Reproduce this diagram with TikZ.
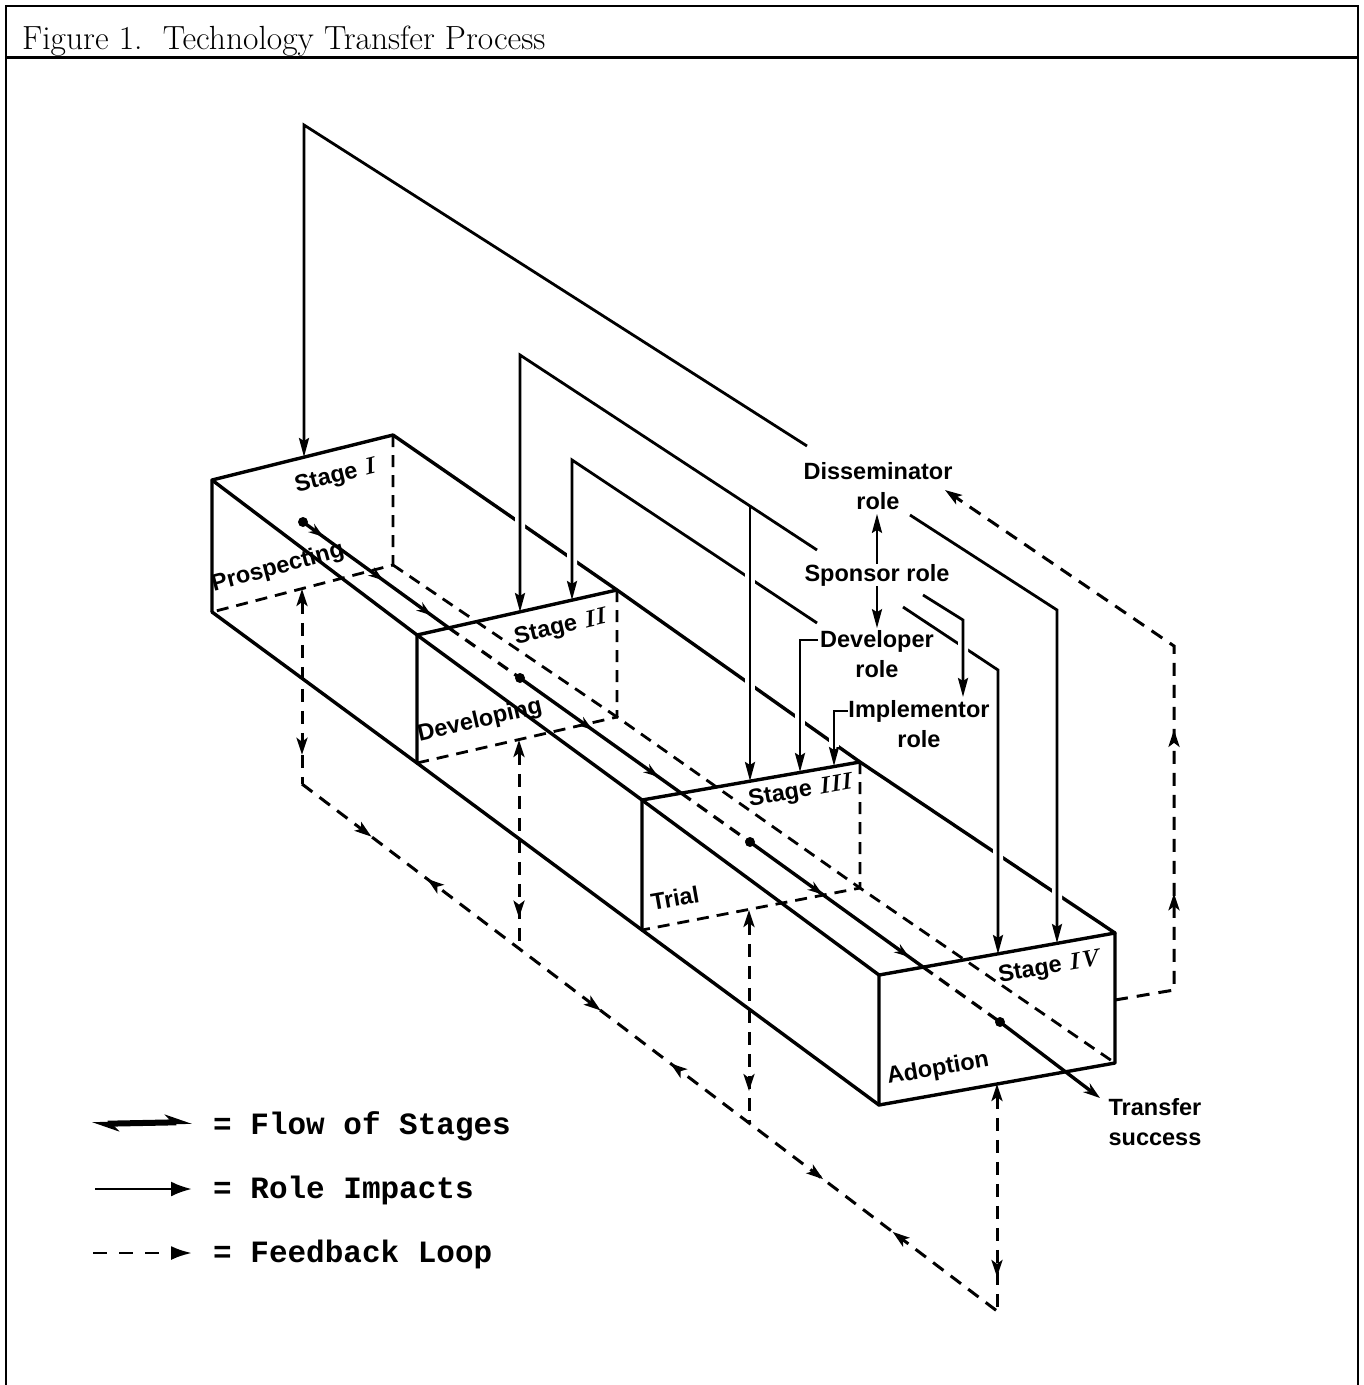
\documentclass[tikz,border=0pt]{standalone}
\usepackage{fontspec}
\newfontfamily\lblfont{Liberation Sans}
\newfontfamily\legfont{Liberation Mono}
\usetikzlibrary{arrows.meta,decorations.markings}
\newcommand\stnum[1]{{\rmfamily\bfseries\itshape #1}}

\begin{document}
\begin{tikzpicture}[x=1pt, y=-1pt,
    >={Stealth[length=17pt,width=11pt,inset=4pt]},
    edge/.style={line width=3.4pt, line cap=round, line join=round},
    hidden/.style={line width=2.8pt, dash pattern=on 12pt off 8pt},
    flow/.style={line width=3.4pt},
    flowdash/.style={line width=3.2pt, dash pattern=on 12pt off 8pt},
    role/.style={line width=2.8pt, -{Stealth[length=19pt,width=10pt,inset=3pt]}},
    halo/.style={preaction={draw=white, line width=10pt, -, shorten <=6pt, shorten >=19pt}},
    fb/.style={line width=3pt, dash pattern=on 13pt off 9pt},
    lbl/.style={font={\fontsize{23.5}{30}\lblfont\bfseries}, inner sep=0pt, align=center},
    leg/.style={font={\fontsize{31}{33}\legfont\bfseries}, anchor=west, inner sep=0pt}
]
\useasboundingbox (0,0) rectangle (1364,1385);

% Frame and caption
\draw[line width=1.5pt] (6,1385) -- (6,6) -- (1358,6) -- (1358,1385);
\draw[line width=3pt] (6,57) -- (1358,57);
\node[anchor=base west, inner sep=0pt, font=\fontsize{33.5}{40}\selectfont] (cap) at (22,49) {Figure 1.\ \ Technology Transfer Process};

% Corners of the stage faces
\coordinate (s1tl) at (212,480); \coordinate (s1tr) at (393,435);
\coordinate (s1br) at (393,565); \coordinate (s1bl) at (212,612);
\coordinate (s2tl) at (417,635); \coordinate (s2tr) at (617,590);
\coordinate (s2br) at (617,717); \coordinate (s2bl) at (417,763);
\coordinate (s3tl) at (642,800); \coordinate (s3tr) at (860,762);
\coordinate (s3br) at (860,888); \coordinate (s3bl) at (642,930);
\coordinate (s4tl) at (879,975); \coordinate (s4tr) at (1115,933);
\coordinate (s4br) at (1115,1063); \coordinate (s4bl) at (879,1105);

% Long edges
\draw[edge] (s1tl) -- (s2tl) -- (s3tl) -- (s4tl);
\draw[edge] (s1tr) -- (s2tr) -- (s3tr) -- (s4tr);
\draw[edge] (s1bl) -- (s2bl) -- (s3bl) -- (s4bl);
\draw[hidden] (s1br) -- (s2br) -- (s3br) -- (s4br);

% Stage faces
\foreach \s in {1,2,3}{
    \draw[edge] (s\s bl) -- (s\s tl) -- (s\s tr);
    \draw[hidden] (s\s tr) -- (s\s br) -- (s\s bl);
}
\draw[edge] (s4tl) -- (s4tr) -- (s4br) -- (s4bl) -- cycle;

% Flow of stages
\coordinate (f1) at (303,522); \coordinate (c1) at (449,628);
\coordinate (f2) at (520,678); \coordinate (c2) at (681,793);
\coordinate (f3) at (750,842); \coordinate (c3) at (923,967);
\coordinate (f4) at (1000,1022); \coordinate (fend) at (1100,1098);
\draw[flow, postaction={decorate}, decoration={markings,
    mark=at position 0.14 with {\arrow{Stealth[length=15pt,width=10pt]}},
    mark=at position 0.55 with {\arrow{Stealth[length=15pt,width=10pt]}},
    mark=at position 0.88 with {\arrow{Stealth[length=15pt,width=10pt]}}}] (f1) -- (c1);
\draw[flow, postaction={decorate}, decoration={markings,
    mark=at position 0.45 with {\arrow{Stealth[length=15pt,width=10pt]}},
    mark=at position 0.86 with {\arrow{Stealth[length=15pt,width=10pt]}}}] (f2) -- (c2);
\draw[flow, postaction={decorate}, decoration={markings,
    mark=at position 0.42 with {\arrow{Stealth[length=15pt,width=10pt]}},
    mark=at position 0.92 with {\arrow{Stealth[length=15pt,width=10pt]}}}] (f3) -- (c3);
\draw[flow, -{Stealth[length=17pt,width=11pt]}] (f4) -- (fend);
\draw[flowdash] (c1) -- (f2);
\draw[flowdash] (c2) -- (f3);
\draw[flowdash] (c3) -- (f4);
\foreach \f in {f1,f2,f3,f4} \fill (\f) circle (5pt);

% Feedback loops below
\coordinate (fb1t) at (302,589); \coordinate (fb1b) at (302,784);
\coordinate (fb2t) at (519,740); \coordinate (fb2b) at (519,949);
\coordinate (fb3t) at (749,910); \coordinate (fb3b) at (749,1123);
\coordinate (fb4t) at (997,1084); \coordinate (fb4b) at (997,1311);
\foreach \k in {1,2,3,4}
    \draw[fb, <-, postaction={decorate}, decoration={markings,
        mark=at position 0.85 with {\arrow{>}}}] (fb\k t) -- (fb\k b);
\draw[fb, postaction={decorate}, decoration={markings,
    mark=at position 0.10 with {\arrow{>}},
    mark=at position 0.18 with {\arrowreversed{>}},
    mark=at position 0.43 with {\arrow{>}},
    mark=at position 0.53 with {\arrowreversed{>}},
    mark=at position 0.75 with {\arrow{>}},
    mark=at position 0.85 with {\arrowreversed{>}}}] (fb1b) -- (fb4b);

% Feedback loop to the disseminator
\coordinate (rf0) at (1115,1000); \coordinate (rf1) at (1174,990);
\coordinate (rf2) at (1174,646); \coordinate (rf3) at (945,490);
\draw[fb, ->, postaction={decorate}, decoration={markings,
    mark=at position 0.23 with {\arrow{>}},
    mark=at position 0.47 with {\arrow{>}}}] (rf0) -- (rf1) -- (rf2) -- (rf3);

% Role impacts
\coordinate (dis1) at (807,446); \coordinate (dis2) at (304,125); \coordinate (in1a) at (304,457);
\coordinate (dis3) at (910,515); \coordinate (dis4) at (1057,610); \coordinate (in4b) at (1057,943);
\coordinate (dev1) at (817,623); \coordinate (dev2) at (572,460); \coordinate (in2b) at (572,600);
\coordinate (spo1) at (817,550); \coordinate (spo2) at (520,355); \coordinate (in2a) at (520,612);
\coordinate (spo3) at (750,506); \coordinate (in3a) at (750,781);
\coordinate (spo4) at (903,607); \coordinate (spo5) at (998,670); \coordinate (in4a) at (998,954);
\coordinate (spo6) at (923,595); \coordinate (spo7) at (963,620); \coordinate (inimp) at (963,697);
\coordinate (dev3) at (818,640); \coordinate (dev4) at (800,640); \coordinate (in3b) at (800,772);
\coordinate (imp1) at (848,711); \coordinate (imp2) at (834,711); \coordinate (in3c) at (834,766);

\draw[role, halo] (dis1) -- (dis2) -- (in1a);
\draw[role, halo] (dis3) -- (dis4) -- (in4b);
\draw[role, halo] (dev1) -- (dev2) -- (in2b);
\draw[role, halo] (spo1) -- (spo2) -- (in2a);
\draw[role, halo] (spo3) -- (in3a);
\draw[role, halo] (spo4) -- (spo5) -- (in4a);
\draw[role, halo] (spo6) -- (spo7) -- (inimp);
\draw[role, halo] (dev3) -- (dev4) -- (in3b);
\draw[role, halo] (imp1) -- (imp2) -- (in3c);

% Labels
\node[lbl, rotate=14] (lst1) at (335,477) {Stage \stnum{I}};
\node[lbl, rotate=13] (lst2) at (560,628) {Stage \stnum{II}};
\node[lbl, rotate=10] (lst3) at (800,792) {Stage \stnum{III}};
\node[lbl, rotate=10] (lst4) at (1049,968) {Stage \stnum{IV}};
\node[lbl, rotate=15] (lpro) at (278,568) {Prospecting};
\node[lbl, rotate=13] (ldvl) at (480,721) {Developing};
\node[lbl, rotate=10] (ltri) at (675,898) {Trial};
\node[lbl, rotate=10] (lado) at (938,1069) {Adoption};
\node[lbl] (dis) at (878,486) {Disseminator\\role};
\node[lbl] (spo) at (877,575) {Sponsor role};
\node[lbl] (dev) at (877,654) {Developer\\role};
\node[lbl] (imp) at (919,724) {Implementor\\role};
\node[lbl] (trs) at (1155,1122) {Transfer\\success};

\draw[role, shorten >=4pt] (spo.north) -- (spo.north |- dis.south);
\draw[role, shorten >=2pt] (spo.south) -- (spo.south |- dev.north);

% Legend
\coordinate (lg1a) at (92,1124); \coordinate (lg1b) at (192,1122);
\coordinate (lg2a) at (95,1189); \coordinate (lg2b) at (192,1189);
\coordinate (lg3a) at (93,1253); \coordinate (lg3b) at (192,1253);
\draw[line width=6pt, {Stealth[harpoon,length=22pt,width=16pt]}-{Stealth[harpoon,length=22pt,width=16pt]}] (lg1a) -- (lg1b);
\draw[line width=2.8pt, -{Latex[length=21pt,width=15pt]}] (lg2a) -- (lg2b);
\draw[line width=2.8pt, dash pattern=on 14pt off 12pt, -{Latex[length=21pt,width=14pt]}] (lg3a) -- (lg3b);
\node[leg] (lgt1) at (213,1126) {= Flow of Stages};
\node[leg] (lgt2) at (213,1190) {= Role Impacts};
\node[leg] (lgt3) at (213,1254) {= Feedback Loop};
\end{tikzpicture}
\end{document}
